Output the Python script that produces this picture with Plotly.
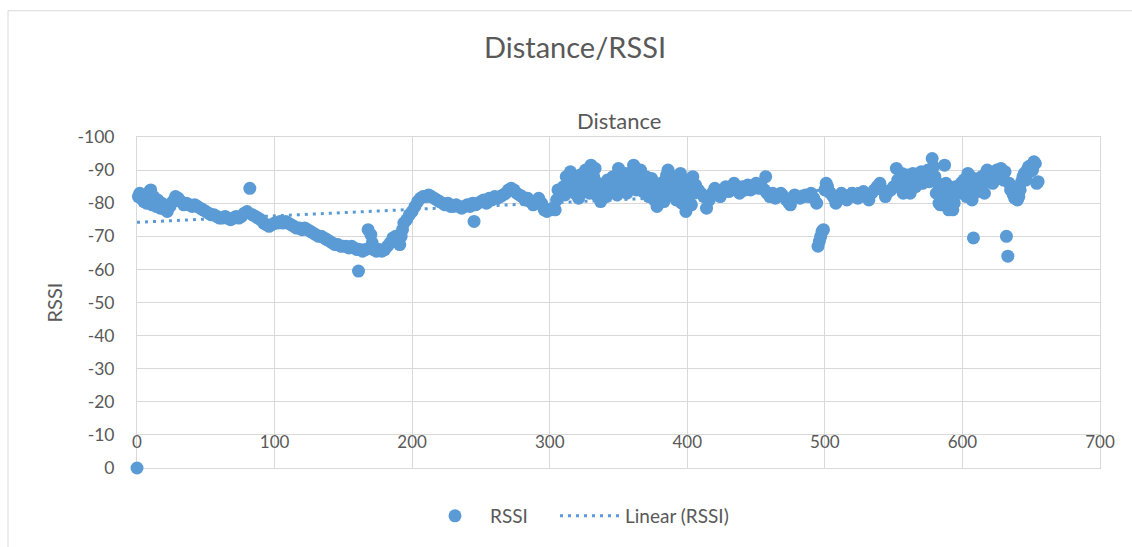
import numpy as np
import plotly.graph_objects as go

# Measured RSSI (dBm) against distance
distance = [
    0, 1, 2, 3, 4, 5, 6, 7, 8, 9, 10, 11, 12, 13, 14, 15, 16, 17, 18, 20,
    21, 22, 24, 26, 28, 30, 32, 34, 36, 38, 40, 42, 44, 46, 48, 50, 52, 54, 56, 58,
    60, 62, 64, 66, 68, 70, 72, 74, 76, 78, 80, 82, 84, 86, 88, 90, 92, 94, 96, 98,
    100, 102, 104, 106, 108, 110, 112, 114, 116, 118, 120, 122, 124, 126, 128, 130, 132, 134, 136, 138,
    140, 142, 144, 146, 148, 150, 152, 154, 156, 158, 160, 161, 162, 164, 166, 168, 170, 171, 172, 174,
    176, 178, 180, 182, 184, 186, 188, 190, 191, 192, 193, 194, 196, 198, 200,
    202, 204, 206, 208, 210, 212, 214, 216, 218, 220, 222, 224, 226, 228, 230, 232, 234, 236, 238, 240,
    242, 244, 245, 246, 248, 250, 252, 254, 256, 258, 260, 262, 264, 266, 268, 270, 272, 274, 276, 278,
    280, 282, 284, 286, 288, 290, 292, 294, 296, 298, 300, 302, 304,
    305, 306, 308, 310, 311, 312, 313, 315, 316, 318, 319, 320, 321, 322, 324, 325, 326, 328, 329, 330,
    331, 332, 333, 334, 335, 336, 337, 338, 340, 341, 342, 344, 345, 346, 348, 349, 350, 351, 352, 354,
    355, 356, 358, 359, 360, 361, 362, 363, 364, 365, 366, 367, 368, 370, 371, 372, 373, 374, 375, 376,
    378, 379, 380, 381, 382, 383, 384, 385, 386, 387, 388, 389, 390, 391, 392, 393, 394, 395, 396, 397,
    398, 399, 400, 401, 402, 403, 404, 405,
    406, 408, 410, 412, 414, 416, 418, 420, 422, 424, 426, 428, 430, 432, 434, 436, 438, 440, 442, 444,
    446, 448, 450, 452, 454, 456, 457, 458, 460, 462, 464, 466, 468, 470, 472, 474, 475, 476, 478, 480,
    482, 484, 486, 488, 490, 492, 494, 495, 496, 497, 498, 499, 500, 501, 502, 504, 506, 508, 510, 512,
    514, 516, 518, 520, 522, 524, 526, 528, 530, 532, 534, 536, 538, 540, 542, 544, 546, 548, 550,
    552, 553, 554, 556, 557, 558, 560, 561, 562, 563, 564, 566, 567, 568, 570, 571, 572, 574, 575, 576,
    578, 579, 580, 581, 582, 583, 584, 585, 586, 587, 588, 589, 590, 591, 592, 593, 594, 595, 596, 598,
    599, 600, 601, 602, 603, 604, 605, 606, 607, 608, 609, 610, 611, 612, 613, 614, 615, 616, 617, 618,
    619, 620, 622, 624, 625, 626, 627, 628, 629, 630, 631, 632, 633, 634, 635, 636, 637, 638, 639, 640,
    641, 642, 643, 644, 645, 646, 647, 648, 649, 650, 651, 652, 653, 654, 655,
]

rssi = [
    0, -82, -83, -81.5, -82.5, -80.5, -82, -80, -81, -83.5, -84, -79.5, -82, -80.5, -79, -81, -79.5, -78.5, -80, -79,
    -78, -77.5, -79, -80.5, -82, -81.5, -80.5, -79.5, -80, -79.5, -79, -79.5, -79, -78.5, -78, -77.5, -77, -76.5, -76.5, -76,
    -75.5, -75.5, -76, -75.5, -75, -75.5, -76, -75.5, -76, -77, -77.5, -84.5, -76.5, -76, -75.5, -75, -74, -73.5, -73, -73.5,
    -74, -74, -74.5, -74, -74.5, -74, -73.5, -73, -72.5, -72.5, -72, -72.5, -72, -71.5, -71, -70.5, -70, -70, -69.5, -69,
    -68.5, -68, -67.5, -67.5, -67, -67, -67, -66.5, -67, -66.5, -66, -59.5, -66, -65.5, -66, -72, -70.5, -68, -66, -65.5,
    -66, -65.5, -66, -67, -68, -69.5, -70, -68.5, -67.5, -70, -72, -74, -75, -76.5, -77.5,
    -79, -80.5, -81.5, -82, -82, -82.5, -82, -81.5, -81, -80.5, -80, -79.5, -80, -79, -79, -79.5, -79, -78.5, -79, -79.5,
    -79, -80, -74.5, -79.5, -80, -80.5, -81, -80, -81.5, -81, -82, -81.5, -82, -82.5, -83, -84, -84.5, -84, -83, -82.5,
    -82, -81, -81.5, -80.5, -79.5, -80, -81.5, -80, -78, -77.5, -78, -78.5, -78,
    -81, -84, -83, -85, -82.5, -88, -84, -89.5, -86, -83, -87, -85, -81.5, -88.5, -84, -86, -90, -87.5, -83, -91.5,
    -85, -88, -90.5, -82.5, -86, -84, -80.5, -83, -85, -82, -87, -86, -83.5, -88, -85, -82.5, -90.5, -87, -84, -86.5,
    -89, -83, -87.5, -85, -89.5, -91.5, -86, -84, -88, -85.5, -90, -87, -83.5, -88, -85, -82, -86, -87.5, -83, -81,
    -79, -84, -82, -86, -84, -80.5, -87, -88.5, -90, -85, -82.5, -87.5, -84, -88, -81, -86, -83, -89, -80, -85,
    -87, -77.5, -82, -86, -84, -79.5, -88, -83,
    -85.5, -84, -83, -82, -78.5, -81, -83, -84.5, -83, -82, -84, -85, -83.5, -84, -86, -84.5, -83, -85, -84, -85.5,
    -84, -85, -86, -84.5, -85, -84, -88, -83, -82, -83, -81.5, -82.5, -83, -82, -81, -80, -79.5, -81.5, -82.5, -82,
    -81.5, -82, -82.5, -82, -83, -81.5, -80, -67, -68.5, -70, -71.5, -72, -84, -86, -85, -83, -82, -80, -81.5, -83,
    -82, -81, -82.5, -83, -82, -81.5, -82.5, -83.5, -82, -81, -83, -84, -85, -86, -84, -82, -83.5, -84, -85,
    -90.5, -87, -85, -89, -83, -86, -88.5, -84, -83, -86.5, -89, -85, -88, -87, -89.5, -86, -88.5, -87, -90, -86.5,
    -93.5, -91, -88, -83, -86, -80, -79.5, -84, -81, -91.5, -86, -82, -78, -84, -83, -78, -80, -85, -84, -83,
    -86, -84, -87, -85, -82, -89, -85.5, -88, -81, -69.5, -83, -86, -84, -87.5, -85, -88, -86, -83, -89, -90,
    -87, -88.5, -86, -89, -90, -87.5, -89, -90.5, -88, -87, -89.5, -70, -64, -86, -84, -85, -82.5, -81.5, -83, -81,
    -82, -84, -86.5, -88, -89, -87, -90, -91, -89.5, -91.5, -90, -92.5, -92, -86, -86.5,
]

y_ticks = [-100, -90, -80, -70, -60, -50, -40, -30, -20, -10, 0]
y_tick_labels = ["-100", "-90", "-80", "-70", "-60", "-50", "-40", "-30", "-20", "-10", "0"]
x_ticks = [0, 100, 200, 300, 400, 500, 600, 700]
x_tick_labels = ["0", "100", "200", "300", "400", "500", "600", "700"]

BLUE = "#5B9BD5"
GRID = "#D9D9D9"
TEXT = "#595959"
FONT = "Lato, 'Open Sans', sans-serif"

# Least-squares linear trend over the measured range
coef = np.polyfit(distance, rssi, 1)
trend_x = [min(distance), max(distance)]
trend_y = list(np.polyval(coef, trend_x))

fig = go.Figure()

# Measurements on the base axes
fig.add_trace(go.Scatter(
    x=distance, y=rssi, mode="markers", name="RSSI",
    marker=dict(color=BLUE, size=13, line=dict(width=0)),
    cliponaxis=False, xaxis="x", yaxis="y", legend="legend",
))

# Trend line on the overlaid x axis that carries the tick labels
fig.add_trace(go.Scatter(
    x=trend_x, y=trend_y, mode="lines", name="Linear (RSSI)",
    line=dict(color=BLUE, width=3, dash="3px,5px"),
    hoverinfo="skip", xaxis="x2", yaxis="y", legend="legend2",
))

legend_style = dict(orientation="h", xanchor="left", y=-0.145, yanchor="middle",
                    font=dict(size=19, color=TEXT), itemwidth=60,
                    bgcolor="rgba(0,0,0,0)")

fig.update_layout(
    width=1132, height=547,
    margin=dict(l=137, r=32, t=137, b=77),
    paper_bgcolor="white", plot_bgcolor="white",
    font=dict(family=FONT, color=TEXT, size=17),
    title=dict(text="Distance/RSSI", x=(575 / 1132), xanchor="center",
               y=1 - 48 / 547, yanchor="middle",
               font=dict(size=29, color=TEXT, family=FONT)),
    showlegend=True,
    legend=dict(x=(420 - 137) / 963, **legend_style),
    legend2=dict(x=(555 - 137) / 963, **legend_style),
    xaxis=dict(
        range=[0, 700], tickvals=x_ticks, showticklabels=False,
        showgrid=True, gridcolor=GRID, gridwidth=1,
        showline=True, linecolor=GRID, linewidth=1, mirror=True,
        zeroline=False, ticks="", layer="below traces",
    ),
    xaxis2=dict(
        range=[0, 700], tickvals=x_ticks, ticktext=x_tick_labels,
        overlaying="x", anchor="free", position=0.115, side="bottom",
        showgrid=False, showline=False, zeroline=False, ticks="",
        tickfont=dict(size=17, color=TEXT), layer="below traces",
    ),
    yaxis=dict(
        range=[0, -100], tickvals=y_ticks, ticktext=y_tick_labels,
        showgrid=True, gridcolor=GRID, gridwidth=1,
        showline=True, linecolor=GRID, linewidth=1, mirror=True,
        zeroline=False, ticks="", ticklabelstandoff=18, layer="below traces",
        tickfont=dict(size=17.5, color=TEXT),
        title=dict(text="RSSI", font=dict(size=20, color=TEXT), standoff=9),
    ),
    annotations=[dict(
        text="Distance", xref="paper", yref="paper",
        x=0.5, y=1.0 + 17 / 333, xanchor="center", yanchor="middle",
        showarrow=False, font=dict(size=22, color=TEXT, family=FONT),
    )],
    shapes=[dict(
        type="rect", xref="paper", yref="paper",
        x0=(8 - 137) / 963, x1=(1140 - 137) / 963,
        y0=(470 - 560) / 333, y1=(470 - 10) / 333,
        line=dict(color="#D9D9D9", width=1), fillcolor="rgba(0,0,0,0)", layer="below",
    )],
)

fig.write_html("out.html")
